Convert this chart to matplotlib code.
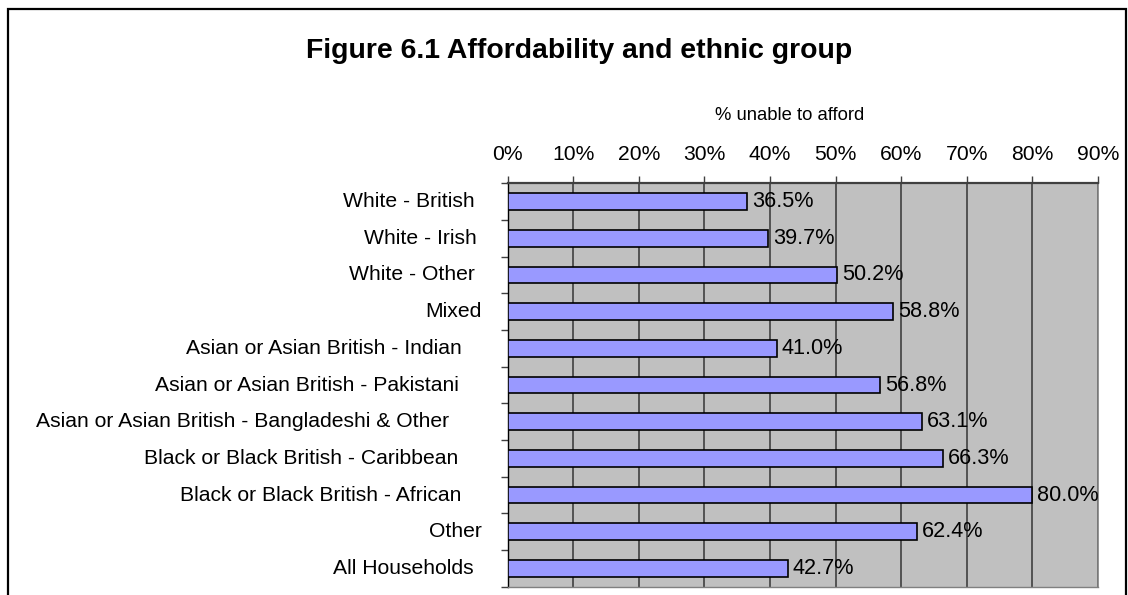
import matplotlib.pyplot as plt
import matplotlib.patches as mpatches
import numpy as np

plt.rcParams['font.family'] = ['Liberation Sans', 'DejaVu Sans']

groups = ['White - British', 'White - Irish', 'White - Other', 'Mixed',
          'Asian or Asian British - Indian',
          'Asian or Asian British - Pakistani',
          'Asian or Asian British - Bangladeshi & Other',
          'Black or Black British - Caribbean',
          'Black or Black British - African',
          'Other', 'All Households']
unable = [36.5, 39.7, 50.2, 58.8, 41.0, 56.8, 63.1, 66.3, 80.0, 62.4, 42.7]
xticks = [0, 10, 20, 30, 40, 50, 60, 70, 80, 90]

W, H = 1128, 595
fig = plt.figure(figsize=(W / 100, H / 100), dpi=100)
fig.patch.set_facecolor('white')

# outer frame of the chart (cut off at the bottom)
frame = mpatches.Rectangle((8 / W, -0.05), (1126 - 8) / W, 1.05 - 9 / H,
                           transform=fig.transFigure, fill=False,
                           edgecolor='black', linewidth=1.6, clip_on=False)
fig.patches.append(frame)

ax = fig.add_axes([507.7 / W, 1 - 586.7 / H, (1098 - 507.7) / W, (586.7 - 183.3) / H])
ax.set_facecolor('#c0c0c0')

y = np.arange(len(groups))
ax.barh(y, unable, height=0.45, color='#9999ff', edgecolor='black',
        linewidth=1.2, zorder=3)
for yi, v in zip(y, unable):
    ax.annotate(f'{v:.1f}%', (v, yi), xytext=(3.5, 0), textcoords='offset points',
                va='center', ha='left', fontsize=15.6, zorder=4)

ax.set_xlim(0, 90)
ax.set_ylim(len(groups) - 0.5, -0.5)

ax.set_xticks(xticks)
ax.set_xticklabels([f'{t}%' for t in xticks])
ax.xaxis.tick_top()
ax.tick_params(axis='x', top=True, bottom=False, direction='out', length=5,
               width=1, color='#404040', pad=9, labelsize=15.2)
ax.grid(axis='x', color='#4a4a4a', linewidth=1.3, zorder=1)
ax.set_axisbelow(True)

# category labels: right aligned, longer labels sit a bit further left (as in the original)
ax.set_yticks(y)
ax.set_yticklabels([])
ax.set_yticks(np.arange(len(groups) + 1) - 0.5, minor=True)
ax.tick_params(axis='y', which='major', length=0)
ax.tick_params(axis='y', which='minor', length=5, width=1, color='#404040')
labels = [ax.annotate(g, (0, yi), xytext=(-21, 0), textcoords='offset pixels',
                      ha='right', va='center', fontsize=15.2)
          for g, yi in zip(groups, y)]
fig.canvas.draw()
rend = fig.canvas.get_renderer()
for t in labels:
    w = t.get_window_extent(rend).width
    t.xyann = (-(21 + 0.09 * w), 0)

ax.spines['top'].set_color('#404040')
ax.spines['top'].set_linewidth(1.6)
ax.spines['left'].set_color('black')
ax.spines['left'].set_linewidth(1.0)
ax.spines['right'].set_color('#808080')
ax.spines['right'].set_linewidth(1.2)
ax.spines['bottom'].set_color('#808080')
ax.spines['bottom'].set_linewidth(1.0)

fig.text(790 / W, 1 - 120 / H, '% unable to afford', ha='center', va='baseline',
         fontsize=13.3)
fig.text(579.5 / W, 1 - 58 / H, 'Figure 6.1 Affordability and ethnic group',
         ha='center', va='baseline', fontsize=20.4, fontweight='bold')

fig.savefig('out.png', dpi=100)
